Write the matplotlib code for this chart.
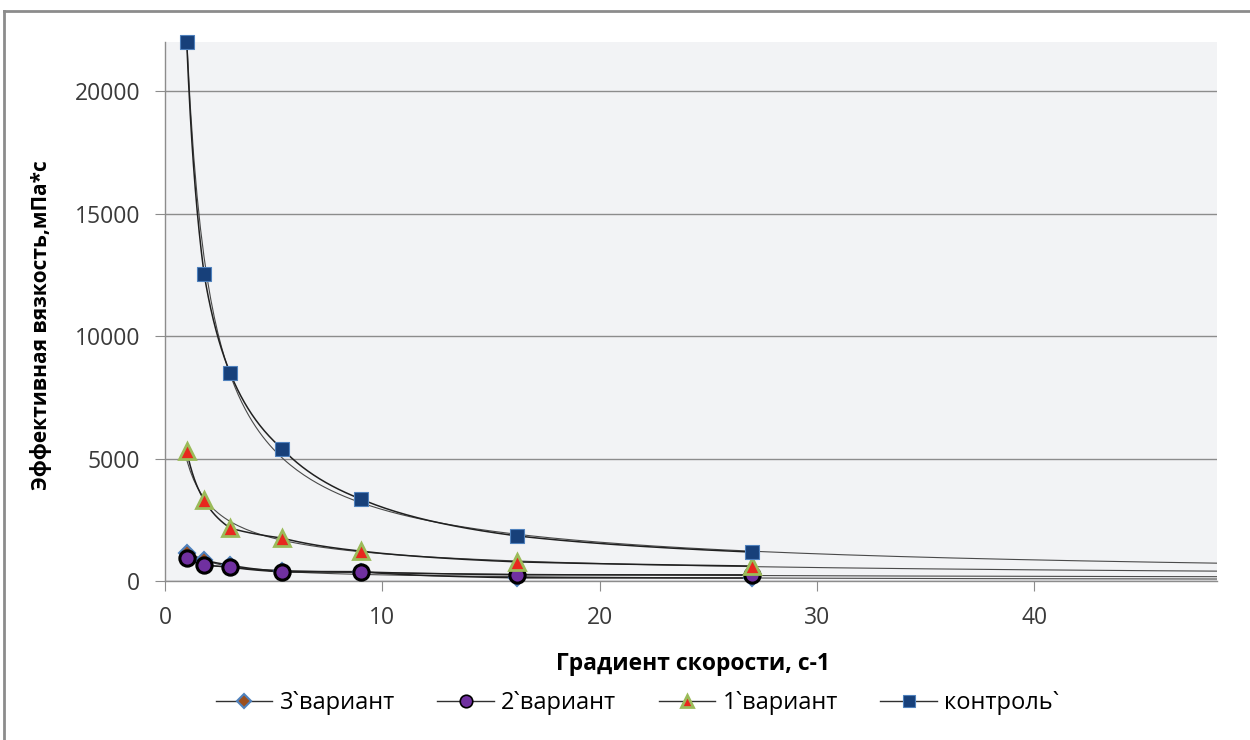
import numpy as np
import matplotlib.pyplot as plt
from matplotlib.lines import Line2D

plt.rcParams.update({
    'font.family': ['Open Sans', 'DejaVu Sans'],
    'font.size': 14,
})

# =============================================================================
# DATA
# =============================================================================
shear_rate = [1, 1.8, 3, 5.4, 9, 16.2, 27]

visc_var3 = [1140, 860, 650, 390, 380, 130, 120]
visc_var2 = [940, 650, 570, 370, 370, 250, 250]
visc_var1 = [5310, 3300, 2160, 1750, 1220, 780, 610]
visc_ctrl = [22000, 12530, 8490, 5390, 3350, 1840, 1180]

labels = ["3`вариант", "2`вариант", "1`вариант", "контроль`"]

X_MAX = 48.4
Y_MAX = 22000

styles = [
    dict(marker='D', markersize=8, markerfacecolor='#9C4F1E', markeredgecolor='#4F81BD', markeredgewidth=1.5),
    dict(marker='o', markersize=11, markerfacecolor='#7030A0', markeredgecolor='black', markeredgewidth=2.2),
    dict(marker='^', markersize=11, markerfacecolor='#E8281E', markeredgecolor='#9BBB59', markeredgewidth=2.0),
    dict(marker='s', markersize=10, markerfacecolor='#17407A', markeredgecolor='#4F81BD', markeredgewidth=0.8),
]


def smooth_through(x, y, n=40):
    """Piecewise power-law segments between neighbouring points (log-log linear)."""
    lx, ly = np.log(x), np.log(y)
    xs, ys = [], []
    for i in range(len(x) - 1):
        t = np.linspace(0, 1, n)
        xs.append(np.exp(lx[i] + t * (lx[i + 1] - lx[i])))
        ys.append(np.exp(ly[i] + t * (ly[i + 1] - ly[i])))
    return np.concatenate(xs), np.concatenate(ys)


def power_trend(x, y, x_end):
    b, a = np.polyfit(np.log(x), np.log(y), 1)
    xx = np.linspace(min(x), x_end, 300)
    return xx, np.exp(a) * xx ** b


fig = plt.figure(figsize=(12.5, 7.4), dpi=100)
ax = fig.add_axes([0.132, 0.2149, 0.8416, 0.7281])
ax.set_facecolor('#F2F3F5')

x = np.array(shear_rate, dtype=float)
series = [visc_var3, visc_var2, visc_var1, visc_ctrl]

for vals, st in zip(series, styles):
    y = np.array(vals, dtype=float)
    tx, ty = power_trend(x, y, X_MAX)
    ax.plot(tx, ty, color='#4A4A4A', lw=0.8, zorder=2)
    sx, sy = smooth_through(x, y)
    ax.plot(sx, sy, color='#202020', lw=1.1, zorder=3)
    ax.plot(x, y, linestyle='none', zorder=4, clip_on=False, **st)

ax.set_xlim(0, X_MAX)
ax.set_ylim(0, Y_MAX)
ax.set_xticks([0, 10, 20, 30, 40])
ax.set_yticks([0, 5000, 10000, 15000, 20000])
ax.grid(True, axis='y', color='#8C8C8C', lw=1.0)
ax.set_axisbelow(True)

for side in ['top', 'right']:
    ax.spines[side].set_visible(False)
for side in ['left', 'bottom']:
    ax.spines[side].set_color('#8C8C8C')
    ax.spines[side].set_linewidth(1.0)
ax.tick_params(axis='both', direction='out', length=7, color='#8C8C8C',
               labelsize=16.5, labelcolor='#3A3A3A', pad=11)

ax.set_xlabel("Градиент скорости, с-1", fontweight='bold', fontsize=16.5)
ax.set_ylabel("Эффективная вязкость,мПа*с", fontweight='bold', fontsize=15)
ax.xaxis.set_label_coords(0.502, -0.132)
ax.yaxis.set_label_coords(-0.107, 0.475)

handles = [Line2D([0], [0], color='#303030', lw=1.0, **st) for st in styles]
handles[0].set_markersize(7)
handles[1].set_markersize(9)
handles[1].set_markeredgewidth(1.2)
handles[2].set_markersize(9)
handles[3].set_markersize(8)
fig.legend(handles=handles, labels=labels, loc='center', bbox_to_anchor=(0.51, 0.05),
           ncol=4, frameon=False, fontsize=17, handlelength=2.4, columnspacing=1.8,
           handletextpad=0.3)

# chart border (top and left visible in the reference)
fig.add_artist(Line2D([0.003, 1.0], [0.985, 0.985], color='#8C8C8C', lw=2, transform=fig.transFigure))
fig.add_artist(Line2D([0.003, 0.003], [0.0, 0.985], color='#8C8C8C', lw=2, transform=fig.transFigure))

fig.savefig('out.png', dpi=100)
